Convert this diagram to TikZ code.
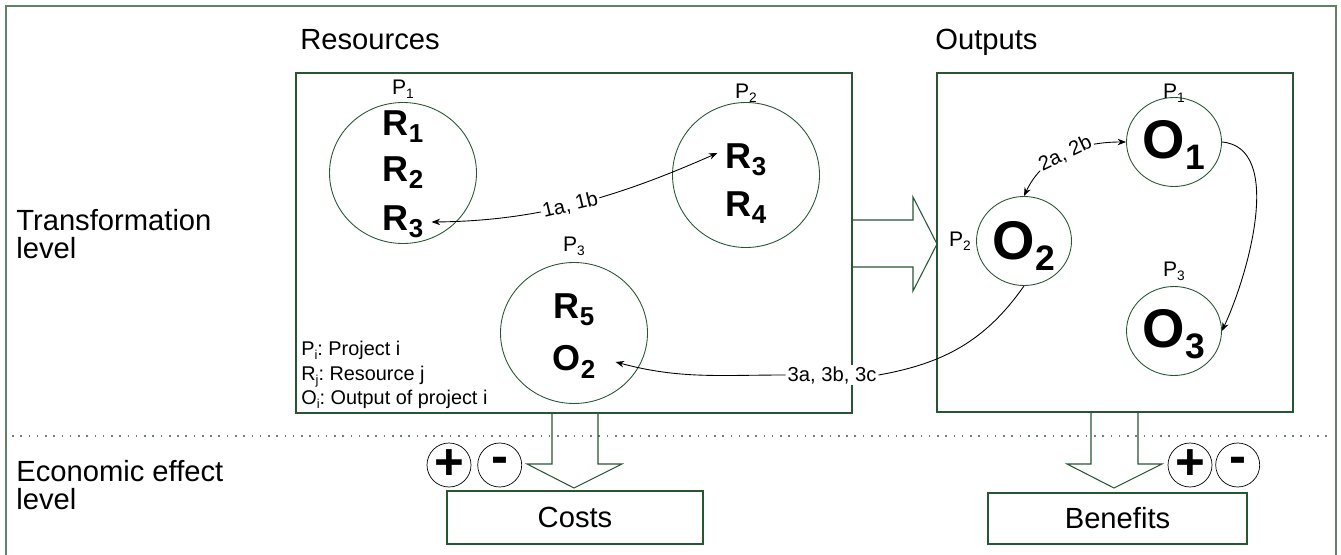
\documentclass[tikz,border=0pt]{standalone}
\usepackage{fontspec}
\setmainfont{Liberation Sans}
\usepackage{tikz}
\usetikzlibrary{arrows.meta,positioning,shapes.geometric}
\definecolor{boxgreen}{RGB}{40,85,50}
\definecolor{framegreen}{RGB}{95,130,105}
\definecolor{dotgray}{RGB}{110,130,115}
\newcommand{\ix}[2][0.65]{\raisebox{-0.2em}{\scalebox{#1}{#2}}}

\begin{document}
\begin{tikzpicture}[x=0.2mm,y=-0.2mm,
  >={Stealth[length=1.7mm,width=1.3mm]},
  greenbox/.style={draw=boxgreen,line width=0.6pt,rectangle,inner sep=0pt},
  proj/.style={draw=boxgreen,line width=0.5pt,ellipse,inner sep=0pt},
  sign/.style={draw=black,line width=0.4pt,circle,minimum size=8.8mm,inner sep=0pt,
    font=\bfseries\fontsize{29}{29}\selectfont},
  lvl/.style={font=\fontsize{16.6}{15.9}\selectfont,align=left,inner sep=0pt},
  head/.style={font=\fontsize{16.6}{16.6}\selectfont,inner sep=0pt},
  item/.style={font=\bfseries\fontsize{20.5}{20.5}\selectfont,inner sep=0pt},
  bigitem/.style={font=\bfseries\fontsize{31}{31}\selectfont,inner sep=0pt},
  plab/.style={font=\fontsize{12}{12}\selectfont,inner sep=0pt},
  flow/.style={line width=0.5pt},
  flowlab/.style={font=\fontsize{11.5}{11.5}\selectfont,fill=white,inner sep=1pt},
  fat/.style={draw=boxgreen,line width=0.6pt}]
  \useasboundingbox (0,0) rectangle (1341,555);

  % frame and level separator
  \draw[framegreen,line width=1.2pt] (6,555) -- (6,6) -- (1336,6) -- (1336,555);
  \draw[dotgray,line width=0.9pt,dash pattern=on 0.9pt off 3.8pt] (12,436) -- (1330,436);

  % level and column headings
  \node[lvl,anchor=north west] (translab) at (16,209) {Transformation\\level};
  \node[lvl,anchor=north west] (econlab) at (16,460) {Economic effect\\level};
  \node[head,anchor=base west] (reslab) at (300,50) {Resources};
  \node[head,anchor=base west] (outlab) at (935,50) {Outputs};

  % boxes
  \node[greenbox,minimum width=111.2mm,minimum height=68mm] (resbox) at (574,243) {};
  \node[greenbox,minimum width=71.2mm,minimum height=67.8mm] (outbox) at (1115,242.5) {};
  \node[greenbox,minimum width=51.2mm,minimum height=10.6mm,font=\fontsize{16.6}{16.6}\selectfont]
    (costs) at (575,517.5) {Costs};
  \node[greenbox,minimum width=51.8mm,minimum height=10.2mm,font=\fontsize{16.6}{16.6}\selectfont]
    (benefits) at (1117.5,518.5) {Benefits};

  % block arrows
  \draw[fat] (852,220) -- (913,220) -- (913,197) -- (937,244) -- (913,291) -- (913,267) -- (852,267);
  \draw[fat] (552,413) -- (552,464) -- (527,464) -- (574,488) -- (622,464) -- (598,464) -- (598,413);
  \draw[fat] (1091,412) -- (1091,464) -- (1067,464) -- (1114,488) -- (1162,464) -- (1138,464) -- (1138,412);

  % projects on the resource side
  \node[proj,minimum width=29.4mm,minimum height=28.2mm] (pA) at (403,173) {};
  \node[proj,minimum width=29.4mm,minimum height=29mm] (pB) at (746,175) {};
  \node[proj,minimum width=29.4mm,minimum height=28.2mm] (pC) at (574,333) {};
  \node[plab,above=0.6mm of pA] (pAlab) {P\ix{1}};
  \node[plab,above=-0.2mm of pB] (pBlab) {P\ix{2}};
  \node[plab,above=1.2mm of pC] (pClab) {P\ix{3}};

  \node[item] (rA1) at (403,127) {R\ix[0.72]{1}};
  \node[item] (rA2) at (403,173) {R\ix[0.72]{2}};
  \node[item] (rA3) at (403,222) {R\ix[0.72]{3}};
  \node[item] (rB3) at (746,160) {R\ix[0.72]{3}};
  \node[item] (rB4) at (746,208) {R\ix[0.72]{4}};
  \node[item] (rC1) at (574,310) {R\ix[0.72]{5}};
  \node[item] (rC2) at (574,362) {O\ix[0.72]{2}};

  \node[font=\fontsize{11.3}{13.9}\selectfont\frenchspacing,align=left,inner sep=0pt,anchor=south west]
    (legend) at (301,409) {P\ix{i}: Project i\\R\ix{j}: Resource j\\O\ix{i}: Output of project i};

  % projects on the output side
  \node[proj,minimum width=19mm,minimum height=17.8mm] (oA) at (1174,142) {};
  \node[proj,minimum width=19mm,minimum height=17.8mm] (oB) at (1024,241) {};
  \node[proj,minimum width=19mm,minimum height=17.8mm] (oC) at (1174,331) {};
  \node[plab,above=-1.2mm of oA] (oAlab) {P\ix{1}};
  \node[plab,left=1mm of oB] (oBlab) {P\ix{2}};
  \node[plab,above=1mm of oC] (oClab) {P\ix{3}};
  \node[bigitem] (oA1) at (1174,145) {O\ix{1}};
  \node[bigitem] (oB2) at (1024,246) {O\ix{2}};
  \node[bigitem] (oC3) at (1174,334) {O\ix{3}};

  % relations
  \draw[<->,flow] ([xshift=1.6mm]rA3.east) .. controls (540,221) and (620,196) ..
    node[flowlab,sloped,pos=0.47] (lab1) {1a, 1b} ([xshift=-1.6mm,yshift=1.4mm]rB3.west);
  \draw[<->,flow] (oB.north) to[out=65,in=180]
    node[flowlab,sloped] (lab2) {2a, 2b} (oA.west);
  \draw[->,flow] (oA.east) to[out=-5,in=65,looseness=0.85] (oC.east);
  \node[flowlab] (lab3) at (832,375) {3a, 3b, 3c};
  \draw[flow] (oB.south) to[out=235,in=10] (lab3.east);
  \draw[->,flow] (lab3.west) to[out=180,in=-15] ([xshift=4mm]rC2.east);

  % signs
  \node[sign] (cplus) at (449,465) {+};
  \node[sign,right=1.2mm of cplus] (cminus) {-};
  \node[sign] (bplus) at (1190,465) {+};
  \node[sign,right=0.6mm of bplus] (bminus) {-};
\end{tikzpicture}
\end{document}
